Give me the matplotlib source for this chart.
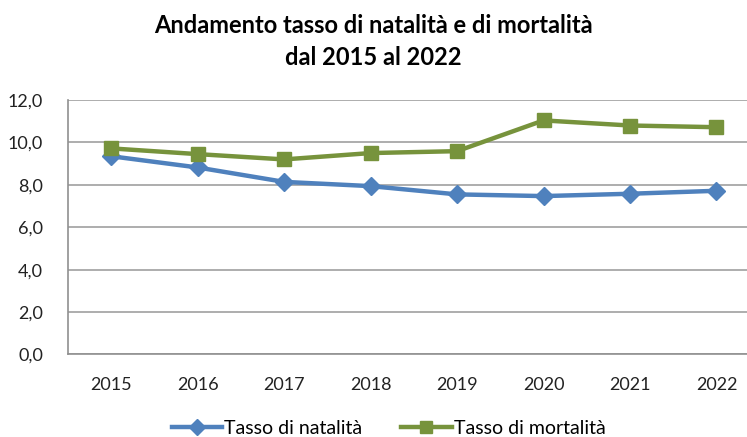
import matplotlib
matplotlib.use("Agg")
import matplotlib.pyplot as plt
from matplotlib.ticker import FuncFormatter

plt.rcParams['font.family'] = ['Lato', 'DejaVu Sans']

# data
anni = ['2015', '2016', '2017', '2018', '2019', '2020', '2021', '2022']
natalita = [9.35, 8.82, 8.14, 7.94, 7.55, 7.47, 7.58, 7.72]
mortalita = [9.72, 9.45, 9.2, 9.5, 9.59, 11.04, 10.8, 10.72]

fig = plt.figure(figsize=(7.47, 4.37), dpi=100)
ax = fig.add_axes([0.091, 0.189, 0.926, 0.582])

x = range(len(anni))
ax.plot(x, natalita, color='#4F81BD', lw=3.2, marker='D', ms=9.5,
        label='Tasso di natalità', zorder=3)
ax.plot(x, mortalita, color='#77933C', lw=3.2, marker='s', ms=10,
        label='Tasso di mortalità', zorder=3)

ax.set_xlim(-0.5, len(anni) - 0.5)
ax.set_ylim(0, 12)
ax.set_yticks(range(0, 13, 2))
ax.yaxis.set_major_formatter(FuncFormatter(lambda v, p: f'{v:.1f}'.replace('.', ',')))
ax.set_xticks(list(x))
ax.set_xticklabels(anni)
ax.tick_params(length=0, labelsize=13, colors='#222222')
ax.tick_params(axis='y', pad=18)
ax.tick_params(axis='x', pad=16)
ax.grid(axis='y', color='#A0A0A0', lw=1.2)
ax.set_axisbelow(True)
for s in ['top', 'right']:
    ax.spines[s].set_visible(False)
for s in ['left', 'bottom']:
    ax.spines[s].set_color('#909090')
    ax.spines[s].set_linewidth(1.2)

fig.suptitle('Andamento tasso di natalità e di mortalità\ndal 2015 al 2022',
             x=0.5, y=0.968, fontsize=17, fontweight='bold', linespacing=1.5)

fig.legend(loc='lower center', bbox_to_anchor=(0.52, -0.04), ncol=2, frameon=False,
           fontsize=14, handlelength=2.6, columnspacing=2.0, handletextpad=0.1,
           markerscale=0.85)

fig.savefig('out.png', dpi=100)
